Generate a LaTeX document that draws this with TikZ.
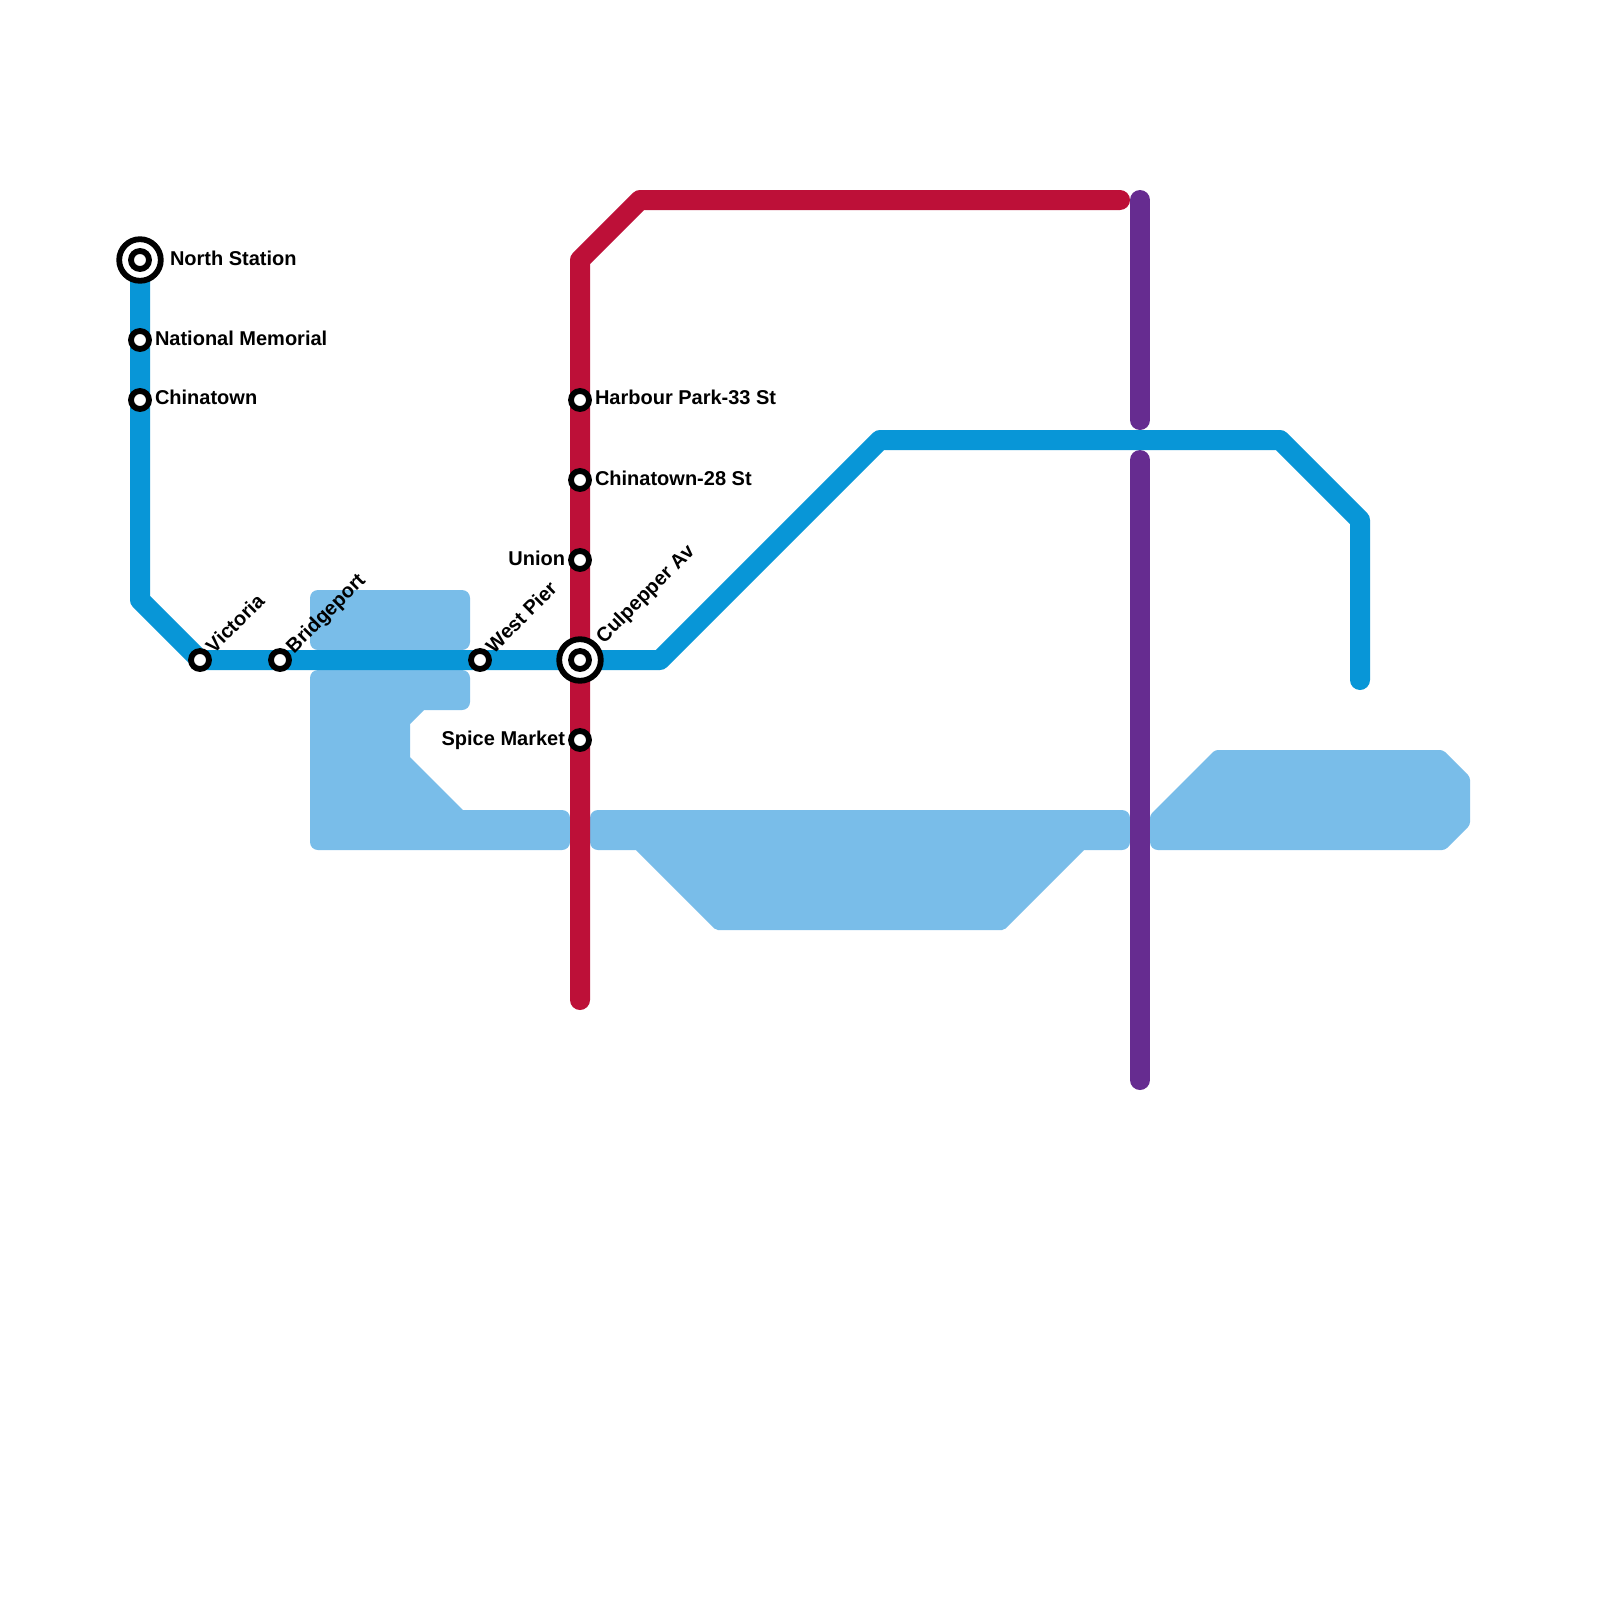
\documentclass[tikz,border=0pt]{standalone}
\usepackage{fontspec}
\setmainfont{Liberation Sans}
\definecolor{lineblue}{HTML}{0896D7}
\definecolor{linered}{HTML}{BD1038}
\definecolor{linepurple}{HTML}{662C90}
\definecolor{water}{HTML}{79BDE9}
\tikzset{
  metro/.style={line width=20pt,line cap=round,line join=round},
  waterfill/.style={fill=water,draw=none},
  stn/.style={circle,draw=black,fill=white,line width=5.8pt,minimum size=18pt,inner sep=0pt,outer sep=0pt},
  hub/.style={circle,draw=black,fill=white,line width=5.8pt,minimum size=41.6pt,inner sep=0pt,outer sep=0pt},
  hubin/.style={circle,draw=black,fill=white,line width=5.8pt,minimum size=18pt,inner sep=0pt,outer sep=0pt},
  lab/.style={font=\fontsize{20pt}{22pt}\selectfont\bfseries,inner sep=0pt,outer sep=0pt},
  labr/.style={lab,anchor=base west},
  labl/.style={lab,anchor=base east},
  labd/.style={lab,anchor=base west,rotate=45}
}
\begin{document}
\begin{tikzpicture}[x=1pt,y=-1pt]
\useasboundingbox (0,0) rectangle (1600,1600);
\fill[white] (0,0) rectangle (1600,1600);
% water
\path[waterfill,rounded corners=8pt] (310,590) -- (470,590) -- (470,650) -- (310,650) -- cycle;
\path[waterfill,rounded corners=8pt] (310,670) -- (470,670) -- (470,710)
  [rounded corners=0pt] -- (424,710) -- (410,724) -- (410,757) -- (463,810)
  [rounded corners=8pt] -- (570,810) -- (570,850) -- (310,850) -- cycle;
\path[waterfill,rounded corners=8pt] (590,810) -- (1130,810) -- (1130,850)
  [rounded corners=0pt] -- (1084,850)
  [rounded corners=2pt] -- (1004,930) -- (716,930)
  [rounded corners=0pt] -- (636,850)
  [rounded corners=8pt] -- (590,850) -- cycle;
\path[waterfill,rounded corners=8pt] (1150,850) [rounded corners=3pt] -- (1150,815) -- (1215,750) -- (1443,750) -- (1470,777) -- (1470,825) -- (1445,850) [rounded corners=8pt] -- cycle;
% junction coordinates
\coordinate (b1) at (140,600);
\coordinate (b2) at (660,660);
\coordinate (b3) at (880,440);
\coordinate (b4) at (1280,440);
\coordinate (b5) at (1360,520);
\coordinate (b6) at (1360,680);
\coordinate (r0) at (580,1000);
\coordinate (r1) at (580,260);
\coordinate (r2) at (640,200);
\coordinate (r3) at (1120,200);
\coordinate (p1) at (1140,200);
\coordinate (p2) at (1140,420);
\coordinate (p3) at (1140,460);
\coordinate (p4) at (1140,1080);
\coordinate (sn) at (140,260);
\coordinate (sc) at (580,660);
% lines
\draw[metro,linered] (r0) -- (r1) -- (r2) -- (r3);
\draw[metro,linepurple] (p1) -- (p2);
\draw[metro,linepurple] (p3) -- (p4);
\draw[metro,lineblue] (sn) -- (b1) -- (200,660) -- (b2) -- (b3) -- (b4) -- (b5) -- (b6);
% stations
\node[hub] (northouter) at (sn) {};
\node[hubin] (northinner) at (sn) {};
\node[stn] (national) at (140,340) {};
\node[stn] (chinatown) at (140,400) {};
\node[stn] (victoria) at (200,660) {};
\node[stn] (bridgeport) at (280,660) {};
\node[stn] (westpier) at (480,660) {};
\node[hub] (culpepperouter) at (sc) {};
\node[hubin] (culpepperinner) at (sc) {};
\node[stn] (harbour) at (580,400) {};
\node[stn] (china28) at (580,480) {};
\node[stn] (union) at (580,560) {};
\node[stn] (spice) at (580,740) {};
% labels
\node[labr] (lnorth) at (170,265) {North Station};
\node[labr] (lnational) at (155,345) {National Memorial};
\node[labr] (lchinatown) at (155,404.5) {Chinatown};
\node[labr] (lharbour) at (595,404.5) {Harbour Park-33 St};
\node[labr] (lchina28) at (595,485) {Chinatown-28 St};
\node[labl] (lunion) at (565,565) {Union};
\node[labl] (lspice) at (565,745) {Spice Market};
\node[labd] (lvictoria) at (214,654) {Victoria};
\node[labd] (lbridgeport) at (294,654) {Bridgeport};
\node[labd] (lwestpier) at (494,654) {West Pier};
\node[labd] (lculpepper) at (604,644) {Culpepper Av};
\end{tikzpicture}
\end{document}
